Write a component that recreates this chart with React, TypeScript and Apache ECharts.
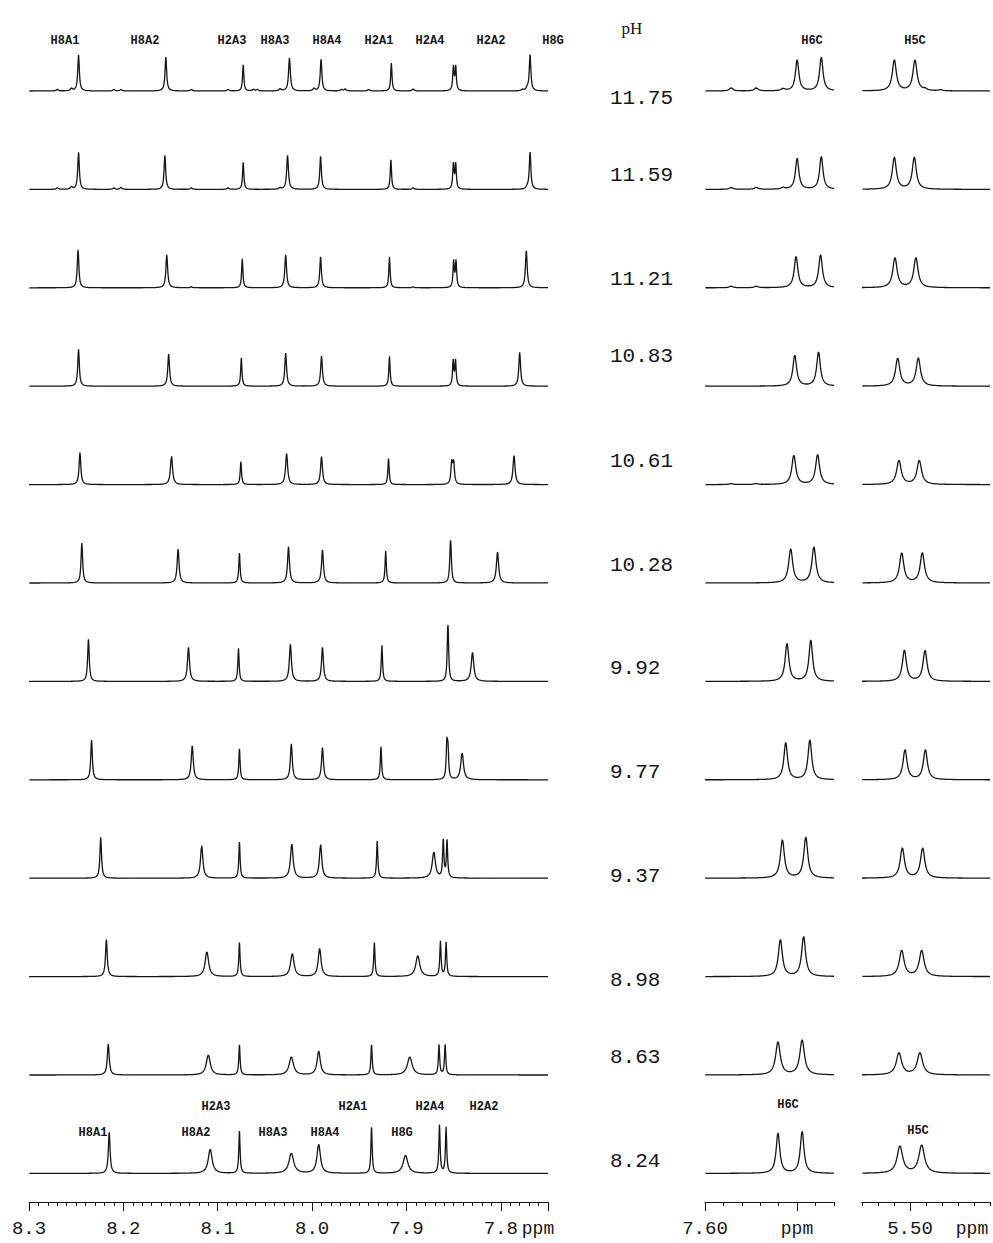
import React, { useEffect, useRef } from "react";
import * as echarts from "echarts";

// pH of each trace, top to bottom
const pHValues = ["11.75", "11.59", "11.21", "10.83", "10.61", "10.28", "9.92", "9.77", "9.37", "8.98", "8.63", "8.24"];

// aromatic region resonances (order matches each row below)
const aromaticNames = ["H8A1", "H8A2", "H2A3", "H8A3", "H8A4", "H2A1", "H2A4", "H2A2", "H8G"];

// chemical shifts (ppm) per pH row
const aromaticShifts = [
  [8.2475, 8.155, 8.073, 8.024, 7.9905, 7.916, 7.8503, 7.8478, 7.769],
  [8.2475, 8.156, 8.073, 8.026, 7.991, 7.9165, 7.8503, 7.8478, 7.769],
  [8.248, 8.154, 8.074, 8.028, 7.991, 7.918, 7.85, 7.8475, 7.773],
  [8.2475, 8.152, 8.075, 8.028, 7.99, 7.918, 7.8505, 7.848, 7.78],
  [8.246, 8.149, 8.0755, 8.027, 7.99, 7.919, 7.852, 7.85, 7.786],
  [8.244, 8.142, 8.077, 8.025, 7.989, 7.922, 7.8535, 7.853, 7.8035],
  [8.237, 8.131, 8.078, 8.023, 7.989, 7.926, 7.8563, 7.8558, 7.83],
  [8.2337, 8.127, 8.077, 8.022, 7.989, 7.927, 7.8572, 7.856, 7.841],
  [8.224, 8.117, 8.077, 8.0215, 7.991, 7.931, 7.861, 7.857, 7.871],
  [8.218, 8.1115, 8.077, 8.021, 7.992, 7.934, 7.864, 7.858, 7.888],
  [8.216, 8.11, 8.077, 8.022, 7.993, 7.937, 7.8655, 7.859, 7.8965],
  [8.215, 8.108, 8.077, 8.022, 7.993, 7.937, 7.865, 7.858, 7.901],
];

// peak intensities (arbitrary units)
const aromaticHeights = [
  [36, 34, 26, 33, 32, 28, 24, 24, 36],
  [37, 34, 27, 34, 33, 30, 25, 25, 37],
  [38, 33, 29, 33, 31, 31, 26, 26, 37],
  [37, 32, 28, 33, 30, 30, 25, 25, 34],
  [32, 29, 23, 31, 28, 26, 21, 21, 29],
  [40, 34, 30, 36, 33, 32, 23, 23, 31],
  [42, 34, 33, 37, 34, 36, 31, 31, 29],
  [40, 34, 31, 36, 32, 33, 34, 28, 27],
  [41, 33, 36, 34, 34, 37, 37, 37, 26],
  [37, 25, 34, 23, 28, 34, 35, 34, 21],
  [31, 20, 30, 18, 24, 30, 30, 30, 18],
  [41, 24, 42, 20, 29, 46, 48, 46, 18],
];

// half widths at half height (ppm)
const aromaticWidths = [
  [0.001, 0.001, 0.0008, 0.0011, 0.001, 0.0008, 0.0008, 0.0008, 0.001],
  [0.001, 0.001, 0.0008, 0.0011, 0.001, 0.0008, 0.0008, 0.0008, 0.001],
  [0.001, 0.0011, 0.0008, 0.0011, 0.001, 0.0008, 0.0008, 0.0008, 0.0011],
  [0.001, 0.0011, 0.0008, 0.0011, 0.0011, 0.0008, 0.0008, 0.0008, 0.0011],
  [0.0011, 0.0013, 0.0008, 0.0013, 0.0012, 0.0008, 0.001, 0.001, 0.0013],
  [0.001, 0.0012, 0.0008, 0.0012, 0.0012, 0.0008, 0.0009, 0.0009, 0.0014],
  [0.001, 0.0013, 0.0008, 0.0013, 0.0012, 0.0008, 0.0008, 0.0008, 0.0016],
  [0.001, 0.0013, 0.0008, 0.0012, 0.0012, 0.0008, 0.0008, 0.0008, 0.0017],
  [0.001, 0.0015, 0.0008, 0.0017, 0.0015, 0.0008, 0.0008, 0.0008, 0.002],
  [0.0011, 0.0022, 0.0008, 0.0022, 0.0018, 0.0008, 0.0008, 0.0008, 0.0025],
  [0.0012, 0.0025, 0.0008, 0.0027, 0.002, 0.0008, 0.0008, 0.0008, 0.003],
  [0.0011, 0.0025, 0.0008, 0.003, 0.0022, 0.0008, 0.0008, 0.0008, 0.003],
];

// weak baseline signals in the aromatic window: [shift, intensity]
const aromaticMinor = [
  [[8.27, 1.5], [8.255, 2.5], [8.21, 1.5], [8.2025, 1.5], [8.128, 1.5], [8.089, 1.5], [8.062, 1.5], [8.058, 1.5], [8.034, 2], [7.998, 2.5], [7.969, 1.5], [7.965, 2], [7.94, 1.5], [7.893, 2], [7.777, 1.5], [7.772, 2.5]],
  [[8.27, 1.5], [8.255, 2.5], [8.21, 1.5], [8.2025, 2], [8.128, 1.5], [8.089, 1.5], [8.034, 1.5], [7.893, 1.5], [7.772, 2]],
  [[8.128, 1], [7.893, 1]],
  [], [], [], [], [], [], [], [], [],
];

// cytosine H6 doublet
const h6cShifts = [
  [7.55, 7.5369], [7.55, 7.5369], [7.5506, 7.5373], [7.5513, 7.5384], [7.5518, 7.5389], [7.5535, 7.5409],
  [7.5555, 7.5426], [7.5562, 7.5431], [7.558, 7.5453], [7.5591, 7.5465], [7.5604, 7.5473], [7.5604, 7.5473],
];
const h6cHeights = [
  [31, 34], [31, 33], [31, 33], [31, 34], [29, 30], [34, 36],
  [38, 41], [37, 40], [38, 41], [37, 40], [33, 35], [40, 42],
];
const h6cWidths = [0.0011, 0.0011, 0.0012, 0.0012, 0.0013, 0.0013, 0.0012, 0.0012, 0.0013, 0.0013, 0.0015, 0.0012];
const h6cMinor = [
  [[7.5858, 3], [7.5722, 3], [7.5577, 2]],
  [[7.5858, 2], [7.5722, 2], [7.5577, 1.5]],
  [[7.5858, 1.5], [7.5722, 1.5]],
  [], [[7.5858, 1], [7.5722, 1]], [], [], [], [], [], [], [],
];

// cytosine H5 doublet
const h5cShifts = [
  [5.5098, 5.4969], [5.5098, 5.4973], [5.5094, 5.4963], [5.5077, 5.4948], [5.5069, 5.4942], [5.5052, 5.4923],
  [5.5035, 5.4906], [5.5031, 5.4904], [5.5048, 5.4921], [5.5052, 5.4927], [5.5069, 5.4938], [5.5063, 5.4927],
];
const h5cHeights = [
  [31, 31], [32, 32], [30, 30], [28, 28], [24, 24], [30, 30],
  [31, 31], [30, 30], [30, 30], [26, 26], [22, 22], [27, 28],
];
const h5cWidths = [0.0015, 0.0015, 0.0016, 0.0016, 0.0017, 0.0016, 0.0015, 0.0015, 0.0016, 0.0018, 0.002, 0.0021];
const h5cMinor = [
  [[5.5369, 2], [5.4906, 1.5], [5.481, 1]],
  [[5.5369, 1.5]],
  [[5.5369, 1.5]],
  [], [], [], [], [], [], [], [], [],
];

// axis ranges, long ticks and tick labels (ppm)
const aromaticRange = [7.75, 8.3];
const aromaticTickLabels = [8.3, 8.2, 8.1, 8.0, 7.9, 7.8];
const aromaticMajorTicks = [8.3, 8.2, 8.1, 8.0, 7.9, 7.8, 7.75];
const h6cRange = [7.53, 7.6];
const h6cTickLabels = [7.6];
const h6cMajorTicks = [7.6, 7.55];
const h5cRange = [5.45, 5.53];
const h5cTickLabels = [5.5];
const h5cMajorTicks = [5.5];

// ---- layout ----
const ROW0 = 91;
const ROW_STEP = 98.4;
const AXIS_Y = 1202;
const PLOT_UP = 70;
const PLOT_DOWN = 2;
const pHLabelY = [98, 175, 279, 356, 461, 565, 668, 772, 876, 980, 1057, 1161];

const panels = [
  { left: 29, width: 519, range: aromaticRange },
  { left: 705, width: 129, range: h6cRange },
  { left: 862, width: 128, range: h5cRange },
];

const MONO = "Liberation Mono, DejaVu Sans Mono, monospace";
const INK = "#151515";

type Peak = [number, number, number];

function trace(peaks: Peak[], lo: number, hi: number, step: number): number[][] {
  const xs: number[] = [];
  const n = Math.round((hi - lo) / step);
  for (let k = 0; k <= n; k++) xs.push(lo + k * step);
  peaks.forEach((p) => {
    if (p[0] > lo && p[0] < hi) xs.push(p[0]);
  });
  xs.sort((a, b) => a - b);
  return xs.map((x) => [
    x,
    peaks.reduce((s, [c, h, w]) => s + h / (1 + ((x - c) / w) * ((x - c) / w)), 0),
  ]);
}

function stepTicks(lo: number, hi: number, d: number, skip: number[]): number[] {
  const out: number[] = [];
  const n = Math.round((hi - lo) / d);
  for (let k = 0; k <= n; k++) {
    const v = +(lo + k * d).toFixed(4);
    if (!skip.some((s) => Math.abs(s - v) < 1e-6)) out.push(v);
  }
  return out;
}

function buildOption() {
  const grid: any[] = [];
  const xAxis: any[] = [];
  const yAxis: any[] = [];
  const series: any[] = [];

  pHValues.forEach((_, i) => {
    const base = ROW0 + ROW_STEP * i;
    const rowPeaks: Peak[][] = [
      aromaticShifts[i]
        .map((c, j) => [c, aromaticHeights[i][j], aromaticWidths[i][j]] as Peak)
        .concat(aromaticMinor[i].map(([c, h]) => [c, h, 0.0012] as Peak)),
      h6cShifts[i]
        .map((c, j) => [c, h6cHeights[i][j], h6cWidths[i]] as Peak)
        .concat(h6cMinor[i].map(([c, h]) => [c, h, 0.0012] as Peak)),
      h5cShifts[i]
        .map((c, j) => [c, h5cHeights[i][j], h5cWidths[i]] as Peak)
        .concat(h5cMinor[i].map(([c, h]) => [c, h, 0.0014] as Peak)),
    ];
    const steps = [0.0004, 0.0002, 0.00025];
    panels.forEach((p, k) => {
      const idx = grid.length;
      grid.push({ left: p.left, width: p.width, top: base - PLOT_UP, height: PLOT_UP + PLOT_DOWN });
      xAxis.push({ gridIndex: idx, type: "value", min: p.range[0], max: p.range[1], inverse: true, show: false });
      yAxis.push({ gridIndex: idx, type: "value", min: -PLOT_DOWN, max: PLOT_UP, show: false });
      series.push({
        type: "line",
        xAxisIndex: idx,
        yAxisIndex: idx,
        data: trace(rowPeaks[k], p.range[0], p.range[1], steps[k]),
        showSymbol: false,
        symbol: "none",
        lineStyle: { color: INK, width: 1.3 },
        clip: true,
        silent: true,
      });
    });
  });

  // ppm scales under the bottom trace
  const majors = [aromaticMajorTicks, h6cMajorTicks, h5cMajorTicks];
  const labels = [aromaticTickLabels, h6cTickLabels, h5cTickLabels];
  const decimals = [1, 2, 2];
  panels.forEach((p, k) => {
    const idx = grid.length;
    grid.push({ left: p.left, width: p.width, top: AXIS_Y - 10, height: 10 });
    xAxis.push({
      gridIndex: idx,
      type: "value",
      min: p.range[0],
      max: p.range[1],
      inverse: true,
      position: "bottom",
      axisLine: { show: true, lineStyle: { color: INK, width: 1 } },
      axisTick: { show: true, customValues: majors[k], length: 9, lineStyle: { color: INK, width: 1 } },
      axisLabel: {
        show: true,
        customValues: labels[k],
        formatter: (v: number) => v.toFixed(decimals[k]),
        fontFamily: MONO,
        fontSize: 19,
        color: INK,
        margin: 17,
      },
      splitLine: { show: false },
    });
    xAxis.push({
      gridIndex: idx,
      type: "value",
      min: p.range[0],
      max: p.range[1],
      inverse: true,
      position: "bottom",
      axisLine: { show: false },
      axisTick: {
        show: true,
        customValues: stepTicks(p.range[0], p.range[1], 0.01, majors[k]),
        length: 4,
        lineStyle: { color: INK, width: 1 },
      },
      axisLabel: { show: false },
      splitLine: { show: false },
    });
    yAxis.push({ gridIndex: idx, type: "value", min: 0, max: 1, show: false });
  });

  const text = (t: string, x: number, y: number, font: string, align = "center") => ({
    type: "text",
    x,
    y,
    silent: true,
    style: { text: t, font, fill: INK, align, verticalAlign: "middle" },
  });

  const nameFont = `bold 12px ${MONO}`;
  const topNameX = [65, 145, 232, 275, 327, 379, 430, 491, 553];
  const bottomNamePos = [
    [93, 1133], [196, 1133], [216, 1107], [273, 1133], [325, 1133], [353, 1107], [430, 1107], [484, 1107], [402, 1133],
  ];

  const graphics: any[] = [];
  aromaticNames.forEach((n, j) => {
    graphics.push(text(n, topNameX[j], 41, nameFont));
    graphics.push(text(n, bottomNamePos[j][0], bottomNamePos[j][1], nameFont));
  });
  graphics.push(text("H6C", 812, 41, nameFont));
  graphics.push(text("H5C", 915, 41, nameFont));
  graphics.push(text("H6C", 788, 1105, nameFont));
  graphics.push(text("H5C", 918, 1131, nameFont));
  graphics.push(text("pH", 632, 28, "17px Liberation Serif, serif"));
  pHValues.forEach((v, i) => graphics.push(text(v, 610, pHLabelY[i], `21px ${MONO}`, "left")));
  graphics.push(text("ppm", 538, AXIS_Y + 27, `18px ${MONO}`));
  graphics.push(text("ppm", 797, AXIS_Y + 27, `18px ${MONO}`));
  graphics.push(text("ppm", 972, AXIS_Y + 27, `18px ${MONO}`));

  return {
    animation: false,
    backgroundColor: "#ffffff",
    grid,
    xAxis,
    yAxis,
    series,
    graphic: { elements: graphics },
  };
}

export default function App() {
  const ref = useRef<HTMLDivElement>(null);
  useEffect(() => {
    if (!ref.current) return;
    const chart = echarts.init(ref.current, undefined, { renderer: "svg" });
    chart.setOption(buildOption() as any);
    return () => chart.dispose();
  }, []);
  return (
    <div
      ref={ref}
      style={{ position: "absolute", left: 0, top: 0, width: 993, height: 1243, background: "#fff" }}
    />
  );
}
